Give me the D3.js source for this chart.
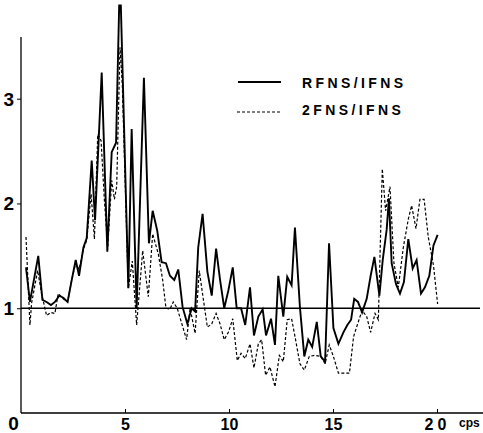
<!DOCTYPE html>
<html><head><meta charset="utf-8">
<script src="https://cdn.jsdelivr.net/npm/d3@7"></script>
<style>body{margin:0;background:#fff}svg{display:block}text{font-family:"Liberation Sans",Arial,sans-serif;fill:#000}</style>
</head><body><svg id="c" width="483" height="433"></svg>
<script>
const rfnsX = [0.24,0.43,0.83,1.03,1.23,1.44,1.63,1.84,2.03,2.24,2.44,2.63,2.79,3.00,3.16,3.40,3.56,3.88,4.15,4.36,4.57,4.72,4.80,5.16,5.32,5.56,5.91,6.15,6.33,6.55,6.76,6.97,7.16,7.37,7.56,7.77,8.00,8.20,8.37,8.52,8.73,8.96,9.17,9.38,9.57,9.77,9.97,10.18,10.37,10.58,10.78,11.01,11.20,11.41,11.62,11.78,12.02,12.21,12.37,12.61,12.80,13.01,13.17,13.41,13.62,13.81,14.00,14.22,14.41,14.62,14.81,15.02,15.26,15.50,15.69,15.87,16.02,16.20,16.40,16.62,16.81,16.99,17.23,17.39,17.58,17.69,17.82,18.03,18.22,18.41,18.62,18.83,19.02,19.23,19.42,19.63,19.83,20.03];
const rfnsY = [1.39,1.06,1.50,1.08,1.06,1.03,1.06,1.12,1.10,1.06,1.27,1.46,1.31,1.58,1.67,2.41,1.84,3.25,1.54,2.49,2.58,3.89,3.89,1.19,2.71,1.00,3.20,1.62,1.93,1.74,1.44,1.43,1.31,1.27,1.37,1.01,0.85,1.00,0.97,1.58,1.90,1.35,1.12,1.57,1.27,1.00,1.17,1.39,1.00,1.00,0.84,1.20,0.74,0.92,0.99,0.74,0.90,0.65,1.31,0.92,1.30,1.22,1.77,1.01,0.54,0.70,0.63,0.87,0.54,0.49,1.62,0.81,0.66,0.77,0.84,0.89,1.09,1.06,0.96,1.09,1.31,1.49,1.12,1.46,1.75,2.05,1.43,1.23,1.14,1.25,1.66,1.38,1.46,1.14,1.20,1.31,1.60,1.70];
const fns2X = [0.24,0.43,0.51,0.80,0.99,1.23,1.44,1.63,1.79,2.03,2.24,2.44,2.63,2.79,3.00,3.16,3.37,3.53,3.69,3.85,4.01,4.17,4.36,4.49,4.60,4.76,4.87,5.16,5.35,5.56,5.85,6.12,6.33,6.60,6.81,6.97,7.16,7.32,7.51,7.72,7.96,8.13,8.37,8.57,8.77,8.96,9.17,9.38,9.57,9.77,9.97,10.18,10.40,10.58,10.78,11.01,11.20,11.41,11.57,11.76,11.97,12.21,12.42,12.61,12.80,13.01,13.20,13.41,13.62,13.86,14.10,14.41,14.62,14.82,15.02,15.26,15.79,15.99,16.20,16.40,16.62,16.81,17.02,17.18,17.37,17.53,17.74,17.93,18.14,18.38,18.62,18.78,18.99,19.18,19.38,19.58,19.83,20.03];
const fns2Y = [1.68,0.84,1.05,1.36,1.14,0.93,0.96,0.95,1.14,1.09,1.06,1.27,1.43,1.37,1.56,1.65,2.09,1.66,2.66,2.60,2.03,1.58,2.22,2.04,2.16,3.49,3.14,1.19,1.45,0.84,1.55,1.11,1.71,1.52,1.27,1.00,0.99,1.06,1.00,0.86,0.70,1.00,0.76,1.36,1.08,0.82,0.85,0.95,0.85,0.70,0.77,0.90,0.50,0.57,0.52,0.66,0.43,0.66,0.70,0.36,0.44,0.25,0.55,0.49,0.89,0.90,0.70,0.47,0.41,0.54,0.55,0.54,0.47,0.65,0.54,0.38,0.38,0.73,0.86,0.98,0.92,0.77,0.95,0.89,2.33,1.93,2.16,1.43,1.20,1.58,1.85,1.98,1.76,2.04,2.04,1.68,1.41,1.04];
const xTicks = [0,5,10,15,20];
const yTicks = [1,2,3];
const legendLabels = ["RFNS/IFNS","2FNS/IFNS"];

const svg = d3.select("#c");
const x = d3.scaleLinear().domain([0,20]).range([21,437]);
const y = d3.scaleLinear().domain([0,3]).range([413,98.7]);

// y axis
const ya = svg.append("g").attr("transform","translate(21,0)")
  .call(d3.axisLeft(y).tickValues(yTicks).tickSize(4).tickPadding(3).tickFormat(d3.format("d")));
ya.select(".domain").remove();
ya.selectAll(".tick line").attr("stroke","#000").attr("stroke-width",1);
ya.selectAll(".tick text").attr("font-size",19).attr("font-weight","bold").attr("dy","0.34em");
svg.append("line").attr("x1",21).attr("x2",21).attr("y1",y(3.59)).attr("y2",y(0)).attr("stroke","#000").attr("stroke-width",1.3);

// x axis
const xa = svg.append("g").attr("transform","translate(0,"+y(0)+")")
  .call(d3.axisBottom(x).tickValues(xTicks).tickSize(-4).tickPadding(6).tickFormat(d3.format("d")));
xa.select(".domain").remove();
xa.selectAll(".tick line").attr("stroke","#000");
xa.selectAll(".tick text").attr("font-size",16).attr("font-weight","bold").attr("letter-spacing",d=>d===20?"4px":"0px");
xa.selectAll(".tick").filter(d=>d===0).select("text").attr("font-size",19).attr("x",-8).attr("y",17).attr("dy",null);
xa.selectAll(".tick").filter(d=>d===0).select("line").remove();
svg.append("line").attr("x1",21).attr("x2",483).attr("y1",y(0)).attr("y2",y(0)).attr("stroke","#000").attr("stroke-width",1.3);
svg.append("text").attr("x",459).attr("y",y(0)+14).attr("font-size",12).attr("font-weight","bold").text("cps");

// reference line at 1
svg.append("line").attr("x1",21).attr("x2",480).attr("y1",y(1)).attr("y2",y(1)).attr("stroke","#000").attr("stroke-width",1.3);

const line = d3.line().x(d=>x(d[0])).y(d=>y(d[1]));
svg.append("path").datum(fns2X.map((v,i)=>[v,fns2Y[i]])).attr("d",line)
  .attr("fill","none").attr("stroke","#000").attr("stroke-width",1.2).attr("stroke-dasharray","3,2");
svg.append("path").datum(rfnsX.map((v,i)=>[v,rfnsY[i]])).attr("d",line)
  .attr("fill","none").attr("stroke","#000").attr("stroke-width",1.9).attr("stroke-linejoin","miter");

// legend
const lg = svg.append("g");
lg.append("line").attr("x1",238).attr("x2",281).attr("y1",82).attr("y2",82).attr("stroke","#000").attr("stroke-width",1.9);
lg.append("line").attr("x1",237).attr("x2",282).attr("y1",112).attr("y2",112).attr("stroke","#000").attr("stroke-width",1.2).attr("stroke-dasharray","3,2");
lg.selectAll("text.lg").data(legendLabels).join("text").attr("class","lg")
  .attr("x",302).attr("y",(d,i)=>88+i*27).attr("font-size",14).attr("font-weight","bold").attr("letter-spacing","3.4px").text(d=>d);
</script></body></html>
